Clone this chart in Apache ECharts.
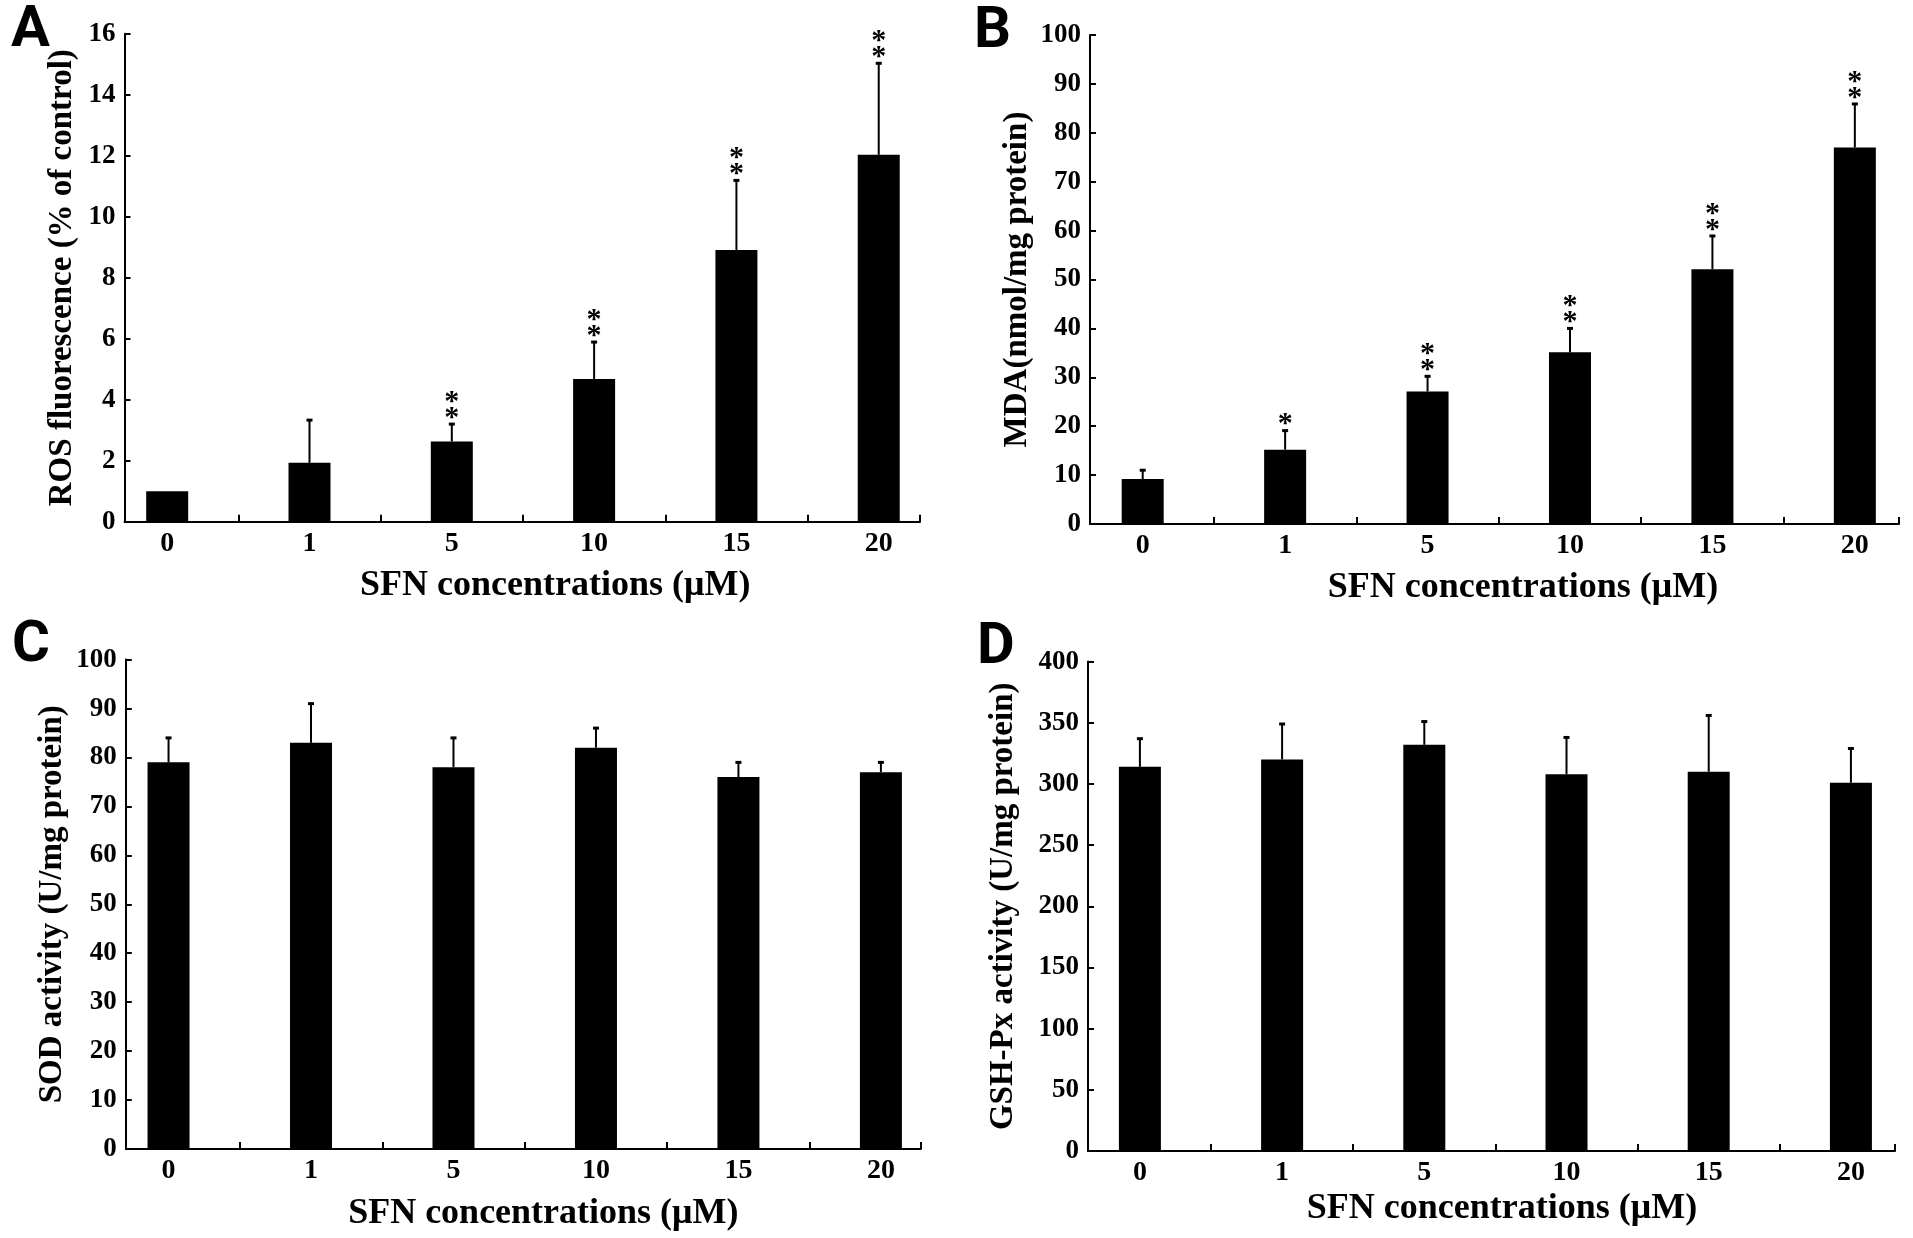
<!DOCTYPE html>
<html>
<head>
<meta charset="utf-8">
<script src="https://cdn.jsdelivr.net/npm/echarts@6/dist/echarts.min.js"></script>
<style>html,body{margin:0;padding:0;background:#fff;}</style>
</head>
<body>
<div id="container" style="width:1913px;height:1238px;"></div>
<script>
// x categories (SFN, µM)
var concLabels = ['0', '1', '5', '10', '15', '20'];

// A: ROS fluorescence
var rosMean = [1, 1.93, 2.63, 4.68, 8.91, 12.03];
var rosSd = [0, 1.4, 0.57, 1.21, 2.28, 3.0];
var rosStars = ['', '', '**', '**', '**', '**'];

// B: MDA
var mdaMean = [9.2, 15.2, 27.1, 35.1, 52.1, 77.0];
var mdaSd = [1.8, 3.9, 3.1, 4.9, 6.8, 8.9];
var mdaStars = ['', '*', '**', '**', '**', '**'];

// C: SOD
var sodMean = [79, 83, 78, 82, 76, 77];
var sodSd = [5, 8, 6, 4, 3, 2];
var sodStars = ['', '', '', '', '', ''];

// D: GSH-Px
var gshMean = [314, 320, 332, 308, 310, 301];
var gshSd = [23, 29, 19, 30, 46, 28];
var gshStars = ['', '', '', '', '', ''];

var SERIF = '"Liberation Serif", "Times New Roman", serif';

var myChart = echarts.init(document.getElementById('container'));

function errRender(sd, stars) {
    return function (params, api) {
        var i = params.dataIndex;
        var x = api.value(0), v = api.value(1);
        var base = api.coord([x, v]);
        var top = api.coord([x, v + sd[i]]);
        var kids = [];
        if (sd[i] > 0) {
            kids.push({ type: 'line', shape: { x1: base[0], y1: base[1], x2: top[0], y2: top[1] },
                style: { stroke: '#000', lineWidth: 2 } });
            kids.push({ type: 'line', shape: { x1: top[0] - 3, y1: top[1], x2: top[0] + 3, y2: top[1] },
                style: { stroke: '#000', lineWidth: 3 } });
        }
        for (var k = 0; k < stars[i].length; k++) {
            kids.push({ type: 'text', style: {
                text: '*', x: top[0], y: top[1] - 6 - k * 16,
                textAlign: 'center', verticalAlign: 'middle',
                font: 'bold 30px ' + SERIF, fill: '#000' } });
        }
        return { type: 'group', children: kids };
    };
}

var option = { backgroundColor: '#fff', animation: false, grid: [], xAxis: [], yAxis: [], series: [], graphic: [] };

// one panel = grid + main x axis (labels) + tick x axis (shifted half a step) + y axis + bars + error bars
function addPanel(p) {
    var gi = option.grid.length;
    option.grid.push({ left: p.left, top: p.top, width: p.width, height: p.height, containLabel: false });
    option.xAxis.push({
        type: 'value', gridIndex: gi, position: 'bottom', min: p.xmin, max: p.xmax,
        minInterval: 1, maxInterval: 1,
        axisLine: { show: true, onZero: false, lineStyle: { color: '#000', width: 2 } },
        axisTick: { show: false },
        splitLine: { show: false },
        axisLabel: {
            showMinLabel: false, showMaxLabel: false, margin: 8,
            fontSize: 28, fontWeight: 'bold', fontFamily: SERIF, color: '#000',
            formatter: function (v) {
                var r = Math.round(v);
                return (Math.abs(v - r) < 1e-6 && r >= 0 && r < concLabels.length) ? concLabels[r] : '';
            }
        },
        name: 'SFN concentrations (μM)', nameLocation: 'middle', nameGap: p.xGap,
        nameTextStyle: { fontSize: 36, fontWeight: 'bold', fontFamily: SERIF, color: '#000',
            padding: [0, 0, 0, p.xShift] }
    });
    option.xAxis.push({
        type: 'value', gridIndex: gi, position: 'bottom', min: p.xmin + 0.5, max: p.xmax + 0.5,
        minInterval: 1, maxInterval: 1,
        axisLine: { show: false, onZero: false },
        axisLabel: { show: false },
        splitLine: { show: false },
        axisTick: { show: true, inside: true, length: 7, lineStyle: { color: '#000', width: 2 } }
    });
    option.yAxis.push({
        type: 'value', gridIndex: gi, position: 'left', min: 0, max: p.ymax, interval: p.yStep,
        axisLine: { show: true, onZero: false, lineStyle: { color: '#000', width: 2 } },
        axisTick: { show: true, inside: true, length: 6, lineStyle: { color: '#000', width: 2 } },
        splitLine: { show: false },
        axisLabel: { margin: 9, fontSize: 27, fontWeight: 'bold', fontFamily: SERIF, color: '#000' },
        name: p.yName, nameLocation: 'middle', nameGap: p.yGap,
        nameTextStyle: { fontSize: 33, fontWeight: 'bold', fontFamily: SERIF, color: '#000' }
    });
    var pts = p.mean.map(function (v, i) { return [i, v]; });
    option.series.push({
        type: 'bar', xAxisIndex: 2 * gi, yAxisIndex: gi, data: pts,
        barWidth: 42, itemStyle: { color: '#000' }, silent: true
    });
    option.series.push({
        type: 'custom', xAxisIndex: 2 * gi, yAxisIndex: gi, data: pts, z: 5,
        encode: { x: 0, y: 1 }, renderItem: errRender(p.sd, p.stars), silent: true
    });
    option.graphic.push({
        type: 'text', style: {
            text: p.letter, x: p.lx, y: p.ly, textAlign: 'left', verticalAlign: 'middle',
            font: 'bold 58px Roboto, "Liberation Sans", sans-serif', fill: '#000' }
    });
}

addPanel({ letter: 'A', lx: 11, ly: 31, left: 124.5, top: 33.7, width: 795.5, height: 488,
    xmin: -0.30, xmax: 5.29, ymax: 16, yStep: 2, xGap: 46, xShift: 66, yGap: 46,
    yName: 'ROS fluorescence (% of control)', mean: rosMean, sd: rosSd, stars: rosStars });
addPanel({ letter: 'B', lx: 974, ly: 32, left: 1090, top: 35, width: 809, height: 489,
    xmin: -0.37, xmax: 5.31, ymax: 100, yStep: 10, xGap: 46, xShift: 57, yGap: 56,
    yName: 'MDA(nmol/mg protein)', mean: mdaMean, sd: mdaSd, stars: mdaStars });
addPanel({ letter: 'C', lx: 12, ly: 646, left: 125.8, top: 659.6, width: 795, height: 489.4,
    xmin: -0.30, xmax: 5.28, ymax: 100, yStep: 10, xGap: 47, xShift: 40, yGap: 57,
    yName: 'SOD activity (U/mg protein)', mean: sodMean, sd: sodSd, stars: sodStars });
addPanel({ letter: 'D', lx: 977, ly: 648, left: 1088, top: 661.6, width: 807, height: 489.4,
    xmin: -0.365, xmax: 5.31, ymax: 400, yStep: 50, xGap: 40, xShift: 21, yGap: 68,
    yName: 'GSH-Px activity (U/mg protein)', mean: gshMean, sd: gshSd, stars: gshStars });

myChart.setOption(option);
</script>
</body>
</html>
